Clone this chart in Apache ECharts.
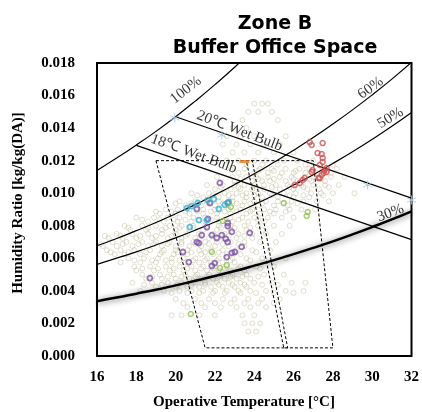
<!DOCTYPE html>
<html><head><meta charset="utf-8">
<script src="https://cdn.jsdelivr.net/npm/echarts@6/dist/echarts.min.js"></script>
<style>html,body{margin:0;padding:0;background:#fff}#c{width:422px;height:412px}</style>
</head><body><div id="c"></div>
<script>
// ---- data ----
const rhTemps = [16,17,18,19,20,21,22,23,24,25,26,27,28,29,30,31,32];
const rh100Temps = [16,17,18,19,20,21,22,23,24];
const rh100 = [0.01140,0.01216,0.01296,0.01380,0.01470,0.01566,0.01667,0.01774,0.01888];
const rh60 = [0.00677,0.00722,0.00770,0.00820,0.00874,0.00930,0.00990,0.01053,0.01119,0.01190,0.01264,0.01342,0.01425,0.01512,0.01604,0.01701,0.01804];
const rh50 = [0.00563,0.00601,0.00640,0.00682,0.00726,0.00773,0.00823,0.00875,0.00930,0.00988,0.01050,0.01114,0.01183,0.01255,0.01331,0.01411,0.01496];
const rh30 = [0.00337,0.00359,0.00383,0.00407,0.00434,0.00462,0.00491,0.00522,0.00555,0.00589,0.00626,0.00664,0.00704,0.00747,0.00792,0.00839,0.00889];
const wb20T = [20, 32], wb20W = [0.01470, 0.00970];
const wb18T = [18, 32], wb18W = [0.01294, 0.00715];
const zoneW = [0.012, 0.012, 0.0005, 0.0005, 0.012];
const winterT = [19.0, 23.9, 25.7, 21.5, 19.0];
const summerT = [23.6, 27.0, 28.0, 25.5, 23.6];
const starT = [19.96, 22.35, 29.76, 32.0];
const starW = [0.01462, 0.01357, 0.01050, 0.00958];
const orangeT = [23.5], orangeW = [0.01195];
const redT = [26.82,26.92,27.48,27.22,27.43,27.48,27.48,27.33,26.97,27.58,27.68,27.53,27.43,27.33,26.46,26.56,26.31,26.06,26.92,27.27,27.68];
const redW = [0.01314,0.01296,0.01308,0.01247,0.01241,0.01216,0.01192,0.01173,0.01143,0.01143,0.01155,0.01124,0.01112,0.01093,0.01081,0.01093,0.01063,0.01050,0.01130,0.01093,0.01130];
const purpleT = [22.25,21.08,21.74,22.65,21.64,21.59,22.65,22.65,22.86,21.33,21.84,22.09,22.35,22.55,22.65,21.08,21.18,23.77,23.36,23.01,22.86,22.60,20.37,20.67,21.99,21.84,18.69];
const purpleW = [0.01063,0.00903,0.00940,0.00940,0.00842,0.00792,0.00817,0.00798,0.00762,0.00743,0.00743,0.00725,0.00743,0.00719,0.00700,0.00700,0.00694,0.00756,0.00670,0.00639,0.00633,0.00608,0.00639,0.00577,0.00571,0.00553,0.00479];
const cyanT = [20.57,20.82,21.13,21.64,21.94,22.20,22.50,22.70,21.18,21.59,20.72];
const cyanW = [0.00909,0.00921,0.00940,0.00958,0.00964,0.00903,0.00928,0.00946,0.00835,0.00835,0.00792];
const greenT = [22.81,22.40,25.50,26.72,26.67,21.84,22.25,22.60,20.77];
const greenW = [0.00915,0.00829,0.00940,0.00885,0.00860,0.00639,0.00541,0.00559,0.00258];
const cloudW = [0.0155,0.0150,0.0145,0.0140,0.0135,0.0130,0.0125,0.0120,0.01175,0.0115,0.01125,0.0110,0.01075,0.0105,0.01025,0.0100,0.00975,0.0095,0.00925,0.0090,0.00875,0.0085,0.00825,0.0080,0.00775,0.0075,0.00725,0.0070,0.00675,0.0065,0.00625,0.0060,0.00575,0.0055,0.00525,0.0050,0.00475,0.0045,0.00425,0.0040,0.0035,0.0030,0.0025,0.0020,0.0015];
const cloudT = [
[24.0,24.4,24.7],
[23.7,24.2,24.9],
[23.4,25.2],
[22.9,23.6],
[22.6,23.3,24.0,25.6],
[22.4,23.1,23.8,24.5,25.3],
[22.9,23.5,24.2,25.0,26.0],
[22.6,23.2,24.0,24.6,25.5,26.2,27.0],
[23.6,24.4,25.2,26.6,28.0],
[22.8,23.5,24.3,24.9,25.6,26.3,26.8,27.5,28.2],
[23.2,24.0,24.7,25.4,26.0,26.6,27.2,27.9],
[22.1,22.9,23.6,24.1,24.7,25.3,25.9,26.6,27.1,27.9,28.6],
[23.0,23.9,24.4,24.8,25.6,26.2,26.9,27.6],
[21.6,22.4,23.0,23.5,24.0,24.5,25.1,25.7,26.4,27.0,27.6,28.3],
[22.0,22.8,23.3,23.9,24.5,25.3,26.0,26.7,27.3],
[20.8,21.7,22.5,23.1,23.6,24.2,24.8,25.5,26.1,26.9,27.4,28.0,29.1],
[21.4,22.2,22.9,23.6,24.4,25.2,26.0,26.8],
[20.2,21.0,21.6,22.2,22.9,23.5,24.0,24.6,25.2,25.9,26.5,27.2,27.8],
[20.5,21.3,22.0,22.7,23.4,24.2,25.0,25.7],
[19.5,20.1,20.7,21.4,22.0,22.7,23.3,23.9,24.5,25.1,25.8,26.4,27.1],
[19.2,20.0,20.7,21.4,22.1,22.8,23.6,24.3,25.0],
[18.0,18.9,19.6,20.2,20.9,21.5,22.1,22.8,23.4,24.0,24.7,25.4,26.0],
[18.6,19.4,20.1,20.8,21.5,22.2,22.9,23.7,24.5],
[17.4,18.3,19.0,19.7,20.3,20.9,21.5,22.2,22.8,23.5,24.2,25.0,25.8],
[17.7,18.5,19.3,20.0,20.7,21.4,22.1,22.8,23.6,24.4],
[17.0,17.8,18.6,19.3,20.0,20.6,21.2,21.9,22.5,23.2,23.9,24.6,25.4],
[16.6,17.3,18.0,18.8,19.6,20.3,21.0,21.7,22.4,23.1,23.9],
[16.8,17.5,18.3,19.0,19.7,20.3,20.9,21.5,22.1,22.8,23.5,24.3,25.1],
[16.3,17.0,17.8,18.6,19.3,20.0,20.7,21.3,22.0,22.7,23.5],
[16.5,17.2,17.9,18.7,19.4,20.0,20.6,21.2,21.8,22.4,23.1,23.9,24.8],
[16.9,17.4,18.2,19.2,19.9,20.6,21.3,21.9,22.6,23.3],
[17.6,18.4,19.1,19.8,20.4,21.0,21.6,22.2,22.9,23.6,24.4,25.6],
[17.2,18.2,19.0,19.8,20.5,21.2,21.8,22.4,23.0],
[17.9,18.7,19.5,20.2,20.8,21.4,22.0,22.6,23.3,24.1,25.0],
[18.0,18.9,19.7,20.4,21.0,21.6,22.2,22.8,23.5],
[18.3,19.2,19.9,20.5,21.1,21.7,22.3,22.9,23.6,24.5,25.5],
[18.5,19.3,20.0,20.7,21.3,21.9,22.5,23.1,23.8],
[17.8,18.8,19.6,20.3,20.9,21.5,22.1,22.7,23.3,24.0,24.9,25.9,26.6],
[19.0,20.0,20.6,21.2,21.8,22.4,23.0,23.6],
[18.2,19.4,20.2,20.8,21.4,22.0,22.6,23.2,23.8,24.6,25.6,26.5],
[20.0,21.0,21.7,22.4,23.0,23.7,24.4,25.3],
[20.6,21.5,22.3,23.1,23.8,24.6],
[19.8,20.3,21.2,22.0,23.4,24.0],
[23.5,23.9,24.3],
[23.7,24.1]
];
const cloud2W = [0.011375,0.010875,0.010375,0.009875,0.009375,0.008875,0.008375,0.007875,0.007375,0.006875,0.006375,0.005875,0.005375,0.004875,0.004375,0.003875,0.003250];
const cloud2T = [
[24.2,25.0,26.1,27.0,27.7],
[23.3,24.2,25.0,26.0,26.8,27.4],
[22.3,23.2,24.1,24.9,25.8,26.5,27.8],
[21.1,21.9,22.7,23.4,24.0,24.9,25.8,26.5,27.5],
[20.0,20.8,21.6,22.4,23.1,23.8,24.4,25.5,26.2],
[19.0,19.8,20.5,21.1,21.8,22.5,23.1,23.8,24.8,25.6],
[18.3,19.2,19.9,20.5,21.2,21.8,22.5,23.2,24.2],
[17.6,18.6,19.5,20.2,20.9,21.6,22.3,23.0,23.8],
[16.4,17.2,18.2,19.0,19.8,20.5,21.3,22.0,22.7,23.5],
[16.2,17.3,18.1,18.9,19.6,20.3,21.0,21.7,22.4,23.2],
[16.7,17.6,18.5,19.3,20.1,20.8,21.5,22.2,23.0,24.1],
[17.9,18.8,19.5,20.2,20.9,21.5,22.1,22.8,23.8],
[18.3,19.1,19.9,20.6,21.3,21.9,22.5,23.2,24.3],
[18.8,19.6,20.3,21.0,21.6,22.2,22.8,23.4,24.2],
[18.4,19.3,20.1,20.8,21.5,22.2,22.9,23.5,24.4,25.2],
[19.8,20.6,21.2,21.9,22.5,23.3,24.1,25.0,26.0],
[20.4,21.3,22.0,22.8,23.5,24.2,25.0]
];
const labelTexts = ['100%','60%','50%','30%','20\u2103 Wet Bulb','18\u2103 Wet Bulb'];

// ---- build ----
const zip = (a,b) => a.map((v,i)=>[v,b[i]]);
const cloud = [];
cloudW.forEach((w,i)=>cloudT[i].forEach(t=>cloud.push([t,w])));
cloud2W.forEach((w,i)=>cloud2T[i].forEach(t=>cloud.push([t,w])));
const labelAnchor = [[20.52,0.01634,38],[29.92,0.01646,36],[30.93,0.01462,31],[30.93,0.00878,20],[23.26,0.01382,-21],[20.93,0.01241,-20]];

const serif = 'Liberation Serif';
const thin = {color:'#000', width:1.2};
function curve(data, ls, z){ return {type:'line', data, showSymbol:false, smooth:true, lineStyle:ls, z:z||3, silent:true}; }
function dots(data, color, size, bw, z){ return {type:'scatter', data, symbol:'circle', symbolSize:size, itemStyle:{color:'rgba(0,0,0,0)', borderColor:color, borderWidth:bw}, z:z||4, silent:true}; }

const chart = echarts.init(document.getElementById('c'));
chart.setOption({
  animation:false,
  backgroundColor:'#fff',
  title:{text:'Zone B\nBuffer Office Space', left:270, top:7, textAlign:'center',
    textStyle:{fontFamily:'DejaVu Sans', fontWeight:'bold', fontSize:19, lineHeight:24, color:'#000'}},
  grid:{left:97, right:10, top:63, bottom:56, show:true, borderColor:'#000', borderWidth:2, containLabel:false},
  xAxis:{type:'value', min:16, max:32, interval:2,
    axisLine:{show:false}, axisTick:{show:false}, splitLine:{show:false},
    axisLabel:{margin:14, color:'#000', fontFamily:serif, fontWeight:'bold', fontSize:15}},
  yAxis:{type:'value', min:0, max:0.018, interval:0.002,
    axisLine:{show:false}, axisTick:{show:false}, splitLine:{show:false},
    axisLabel:{margin:22, color:'#000', fontFamily:serif, fontWeight:'bold', fontSize:15, formatter:v=>v.toFixed(3)}},
  graphic:[
    {type:'text', x:244, y:402, style:{text:'Operative Temperature [\u00B0C]', fontFamily:serif, fontWeight:'bold', fontSize:15, fill:'#000', textAlign:'center', textVerticalAlign:'middle'}},
    {type:'text', x:18, y:203, rotation:Math.PI/2, style:{text:'Humidity Ratio [kg/kg(DA)]', fontFamily:serif, fontWeight:'bold', fontSize:15, fill:'#000', textAlign:'center', textVerticalAlign:'middle'}}
  ],
  series:[
    dots(cloud, 'rgba(180,174,132,0.5)', 5, 1, 2),
    curve(zip(rh100Temps, rh100), thin),
    curve(zip(rhTemps, rh60), thin),
    curve(zip(rhTemps, rh50), thin),
    curve(zip(rhTemps, rh30), {color:'#000', width:2.5, shadowColor:'rgba(0,0,0,0.6)', shadowBlur:6, shadowOffsetY:1}),
    {type:'line', data:zip(wb20T, wb20W), showSymbol:false, lineStyle:thin, z:3, silent:true},
    {type:'line', data:zip(wb18T, wb18W), showSymbol:false, lineStyle:thin, z:3, silent:true},
    {type:'line', data:zip(winterT, zoneW), showSymbol:false, lineStyle:{color:'#000', width:1, type:[3,2]}, z:3, silent:true},
    {type:'line', data:zip(summerT, zoneW), showSymbol:false, lineStyle:{color:'#000', width:1, type:[3,2]}, z:3, silent:true},
    dots(zip(purpleT, purpleW), '#7a52a6', 5, 1.8, 5),
    dots(zip(cyanT, cyanW), '#33b2d3', 5, 1.8, 5),
    dots(zip(greenT, greenW), '#8cc04e', 5, 1.5, 5),
    dots(zip(redT, redW), '#d24f4f', 5, 1.5, 5),
    {type:'scatter', data:zip(starT, starW), symbol:'path://M0,-5L0,5M-4.3,-2.5L4.3,2.5M-4.3,2.5L4.3,-2.5', symbolSize:9,
      itemStyle:{color:'rgba(0,0,0,0)', borderColor:'#9ccbe0', borderWidth:1}, z:5, silent:true, clip:false},
    {type:'scatter', data:zip(orangeT, orangeW), symbol:'rect', symbolSize:[10,3], itemStyle:{color:'#e87d1e'}, z:6, silent:true},
    {type:'scatter', symbolSize:0, z:7, silent:true,
      data: labelAnchor.map((a,i)=>({value:[a[0],a[1]], label:{show:true, formatter:labelTexts[i], rotate:a[2], position:'inside', fontFamily:serif, fontSize:15, color:'#000'}}))}
  ]
});
</script></body></html>
